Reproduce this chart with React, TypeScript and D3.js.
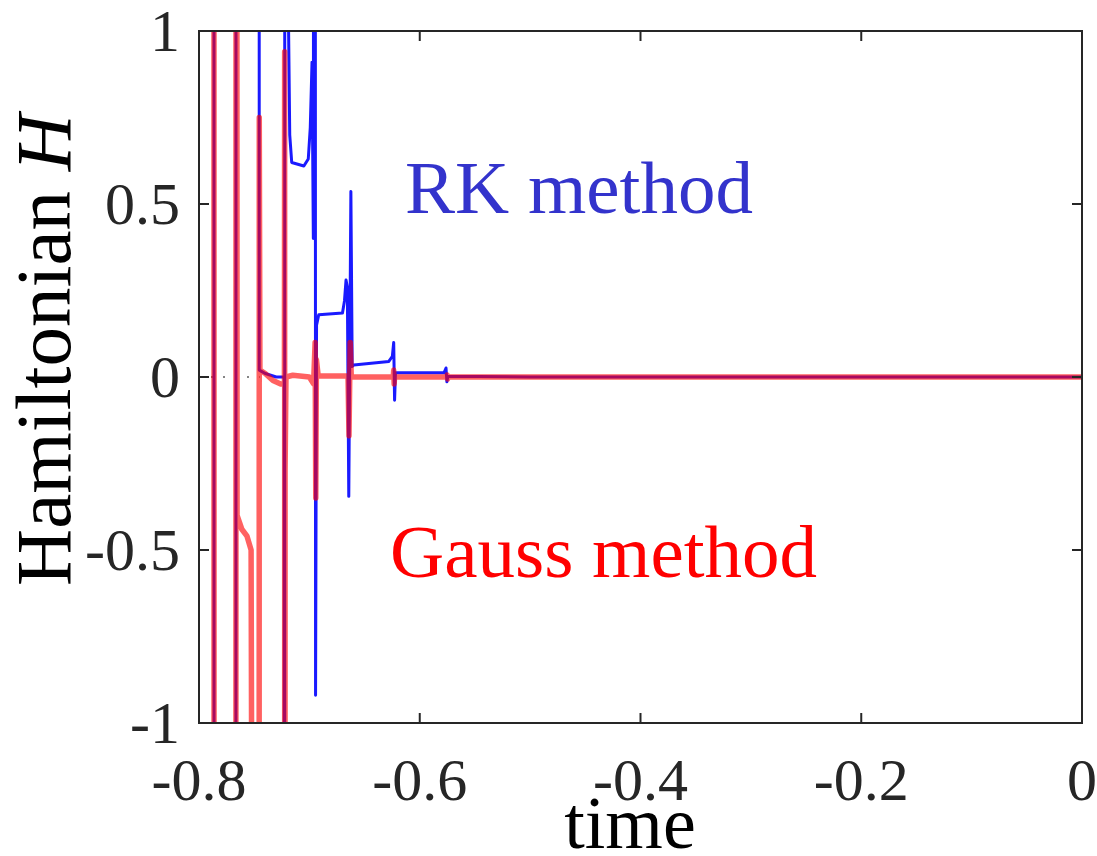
import React from "react";
import * as d3 from "d3";

const xTicks = [-0.8, -0.6, -0.4, -0.2, 0];
const xTickLabels = ["-0.8", "-0.6", "-0.4", "-0.2", "0"];
const yTicks = [1, 0.5, 0, -0.5, -1];
const yTickLabels = ["1", "0.5", "0", "-0.5", "-1"];

// RK method (blue): [time, H]
const rkSeries: [number, number][] = [
  [-0.8, 8], [-0.7866, 8], [-0.7862, -8], [-0.7667, -8], [-0.7663, 8],
  [-0.7458, 8], [-0.7454, 0.02], [-0.7400, 0.01], [-0.7300, 0.0], [-0.7228, 0.0],
  [-0.7225, -8], [-0.7222, 8], [-0.7195, 1.2], [-0.7178, 0.7], [-0.7160, 0.62],
  [-0.7050, 0.61], [-0.7010, 0.63], [-0.6992, 0.72], [-0.6976, 0.91], [-0.6964, 0.4],
  [-0.6952, 8], [-0.6944, -0.92], [-0.6935, 0.15], [-0.6915, 0.18], [-0.6700, 0.185],
  [-0.6682, 0.22], [-0.6668, 0.28], [-0.6656, 0.26], [-0.6643, -0.345], [-0.6624, 0.536],
  [-0.6612, 0.03], [-0.6598, 0.035], [-0.6280, 0.045], [-0.6248, 0.06], [-0.6236, 0.10],
  [-0.6228, -0.067], [-0.6220, 0.012], [-0.5780, 0.012], [-0.5762, 0.026], [-0.5754, -0.014],
  [-0.5745, 0.002], [-0.5, 0], [0, 0],
];

// Gauss method (red): [time, H]
const gaussSeries: [number, number][] = [
  [-0.8, 8], [-0.7866, 8], [-0.7862, -8], [-0.7667, -8], [-0.7663, 8],
  [-0.7655, -0.40], [-0.7612, -0.44], [-0.7565, -0.46], [-0.7528, -0.50], [-0.7468, -8],
  [-0.7458, -8], [-0.7454, 0.75], [-0.7448, 0.02], [-0.7400, 0.01], [-0.7330, -0.01],
  [-0.7260, -0.02], [-0.7226, -0.02], [-0.7224, 0.94], [-0.7222, -8], [-0.7220, -0.27],
  [-0.7212, 0.0], [-0.7150, 0.005], [-0.7000, 0.0], [-0.6962, -0.02], [-0.6948, 0.1],
  [-0.6942, -0.35], [-0.6936, 0.05], [-0.6920, 0.003], [-0.6650, 0.003], [-0.6641, -0.17],
  [-0.6630, 0.1], [-0.6620, 0.0], [-0.6240, 0.0], [-0.6236, 0.02], [-0.6232, -0.02],
  [-0.6228, 0.0], [-0.5756, 0.0], [-0.5752, 0.006], [-0.5748, -0.006], [-0.5744, 0.0], [0, 0],
];

// faint dotted trace near zero at the left edge
const zeroTrace: [number, number][] = [
  [-0.8, 0], [-0.745, 0],
];

const W = 1097;
const H = 856;
const left = 199;
const right = 1082;
const top = 31;
const bottom = 723;

export default function App() {
  const x = d3.scaleLinear().domain([-0.8, 0]).range([left, right]);
  const y = d3.scaleLinear().domain([-1, 1]).range([bottom, top]);
  const line = d3
    .line<[number, number]>()
    .x((d) => x(d[0]))
    .y((d) => y(d[1]));

  const font = "'Liberation Serif', 'Times New Roman', serif";
  const axisColor = "#262626";
  const tickLen = 10;

  return (
    <svg
      width={W}
      height={H}
      style={{ position: "absolute", left: 0, top: 0, background: "#fff" }}
    >
      <defs>
        <clipPath id="plotClip">
          <rect x={left} y={top} width={right - left} height={bottom - top} />
        </clipPath>
      </defs>
      <rect x={0} y={0} width={W} height={H} fill="#fff" />
      <g clipPath="url(#plotClip)">
        <path
          d={line(zeroTrace) || ""}
          fill="none"
          stroke="#333"
          strokeWidth={2}
          strokeDasharray="2 10"
          opacity={0.6}
        />
        <path
          d={line(rkSeries) || ""}
          fill="none"
          stroke="#1a1aff"
          strokeWidth={3}
          strokeLinejoin="round"
        />
        <path
          d={line(gaussSeries) || ""}
          fill="none"
          stroke="#ff0000"
          strokeWidth={5.5}
          strokeOpacity={0.62}
          strokeLinejoin="round"
        />
      </g>
      {/* box */}
      <rect
        x={left}
        y={top}
        width={right - left}
        height={bottom - top}
        fill="none"
        stroke={axisColor}
        strokeWidth={2}
      />
      {/* x ticks */}
      {xTicks.map((t, i) => (
        <g key={"xt" + i}>
          <line x1={x(t)} x2={x(t)} y1={bottom} y2={bottom - tickLen} stroke={axisColor} strokeWidth={2} />
          <line x1={x(t)} x2={x(t)} y1={top} y2={top + tickLen} stroke={axisColor} strokeWidth={2} />
          <text
            x={x(t)}
            y={800}
            textAnchor="middle"
            fontFamily={font}
            fontSize={60}
            fill={axisColor}
          >
            {xTickLabels[i]}
          </text>
        </g>
      ))}
      {/* y ticks */}
      {yTicks.map((t, i) => (
        <g key={"yt" + i}>
          <line x1={left} x2={left + tickLen} y1={y(t)} y2={y(t)} stroke={axisColor} strokeWidth={2} />
          <line x1={right} x2={right - tickLen} y1={y(t)} y2={y(t)} stroke={axisColor} strokeWidth={2} />
          <text
            x={180}
            y={y(t)}
            dy="0.34em"
            textAnchor="end"
            fontFamily={font}
            fontSize={60}
            fill={axisColor}
          >
            {yTickLabels[i]}
          </text>
        </g>
      ))}
      {/* axis labels */}
      <text
        x={630}
        y={848}
        textAnchor="middle"
        fontFamily={font}
        fontSize={74}
        fill="#000"
      >
        time
      </text>
      <text
        transform={`translate(70, 350) rotate(-90)`}
        textAnchor="middle"
        fontFamily={font}
        fontSize={79}
        fill="#000"
      >
        Hamiltonian <tspan fontStyle="italic">H</tspan>
      </text>
      {/* annotations */}
      <text x={405} y={213} fontFamily={font} fontSize={75} fill="#3333cc">
        RK method
      </text>
      <text x={390} y={577} fontFamily={font} fontSize={75} fill="#ff0000">
        Gauss method
      </text>
    </svg>
  );
}
